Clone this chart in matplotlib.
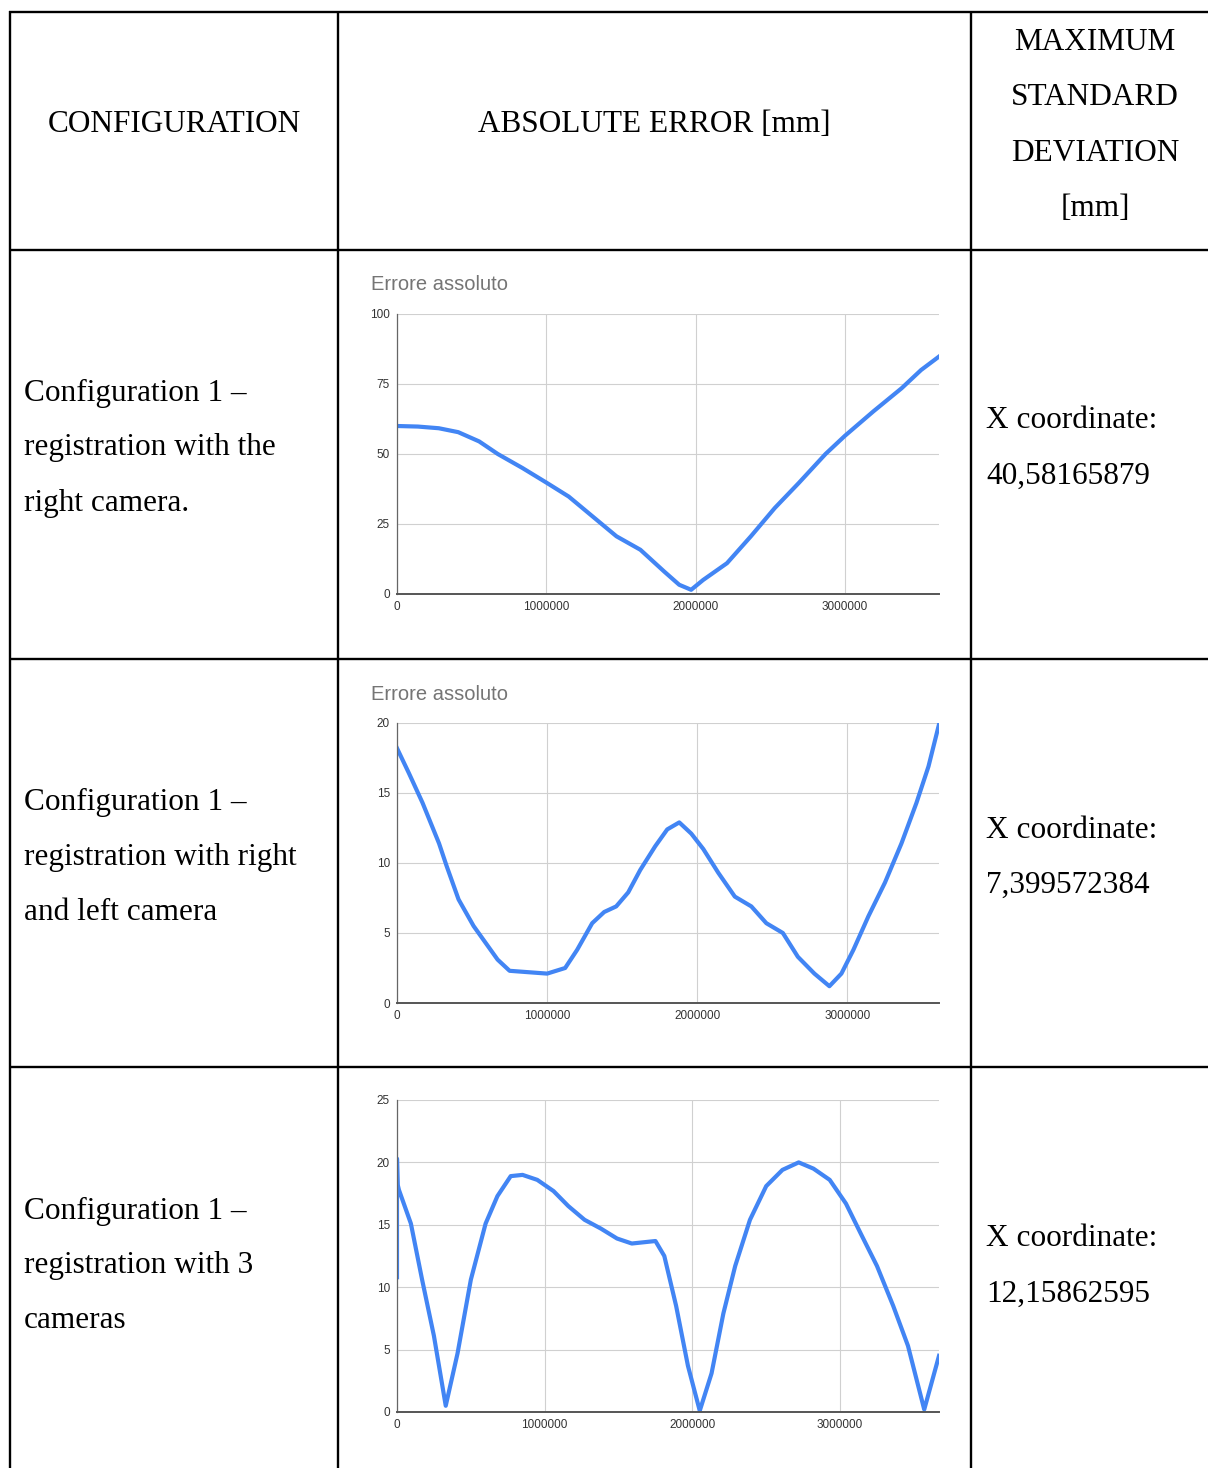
import matplotlib
matplotlib.use('Agg')
import matplotlib.pyplot as plt

# header and row texts
header_cols = ["CONFIGURATION", "ABSOLUTE ERROR [mm]",
               "MAXIMUM\nSTANDARD\nDEVIATION\n[mm]"]
config_labels = [
    ["Configuration 1 \u2013", "registration with the", "right camera."],
    ["Configuration 1 \u2013", "registration with right", "and left camera"],
    ["Configuration 1 \u2013", "registration with 3", "cameras"],
]
std_labels = [
    ["X coordinate:", "40,58165879"],
    ["X coordinate:", "7,399572384"],
    ["X coordinate:", "12,15862595"],
]
chart_titles = ["Errore assoluto", "Errore assoluto", None]

# absolute error series (sample index, error in mm)
x1 = [0, 0.14e6, 0.28e6, 0.41e6, 0.55e6, 0.675e6, 0.84e6, 1.0e6, 1.15e6,
      1.31e6, 1.47e6, 1.63e6, 1.79e6, 1.89e6, 1.97e6, 2.05e6, 2.21e6,
      2.37e6, 2.53e6, 2.69e6, 2.87e6, 3.0e6, 3.19e6, 3.38e6, 3.51e6,
      3.63e6]
y1 = [60.0, 59.8, 59.2, 57.8, 54.5, 50.0, 45.0, 39.8, 34.8,
      27.7, 20.6, 15.8, 8.0, 3.3, 1.5, 5.0, 11.0,
      20.6, 30.7, 39.6, 50.0, 56.5, 65.2, 73.5, 80.0,
      84.8]

x2 = [0, 0.08e6, 0.17e6, 0.28e6, 0.33e6, 0.41e6, 0.51e6, 0.59e6, 0.67e6,
      0.75e6, 1.0e6, 1.12e6, 1.2e6, 1.3e6, 1.38e6, 1.46e6, 1.54e6, 1.62e6,
      1.72e6, 1.8e6, 1.88e6, 1.96e6, 2.04e6, 2.14e6, 2.25e6, 2.36e6,
      2.46e6, 2.57e6, 2.67e6, 2.78e6, 2.88e6, 2.96e6, 3.04e6, 3.14e6,
      3.25e6, 3.36e6, 3.46e6, 3.54e6, 3.61e6]
y2 = [18.2, 16.4, 14.3, 11.4, 9.8, 7.4, 5.5, 4.3, 3.1,
      2.3, 2.1, 2.5, 3.8, 5.7, 6.5, 6.9, 7.9, 9.5,
      11.2, 12.4, 12.9, 12.1, 11.0, 9.3, 7.6, 6.9,
      5.7, 5.0, 3.3, 2.1, 1.2, 2.1, 3.8, 6.2,
      8.6, 11.4, 14.3, 16.9, 19.9]

x3 = [0, 0, 0.005e6, 0.013e6, 0.094e6, 0.17e6, 0.25e6, 0.33e6, 0.41e6,
      0.5e6, 0.6e6, 0.68e6, 0.77e6, 0.85e6, 0.95e6, 1.06e6, 1.16e6,
      1.27e6, 1.38e6, 1.49e6, 1.59e6, 1.75e6, 1.81e6, 1.89e6, 1.97e6,
      2.05e6, 2.13e6, 2.21e6, 2.29e6, 2.39e6, 2.5e6, 2.61e6, 2.72e6,
      2.82e6, 2.93e6, 3.04e6, 3.14e6, 3.25e6, 3.36e6, 3.46e6, 3.57e6,
      3.67e6]
y3 = [10.8, 20.3, 18.2, 17.8, 15.1, 10.6, 6.1, 0.5, 4.7,
      10.6, 15.1, 17.3, 18.9, 19.0, 18.6, 17.7, 16.5,
      15.4, 14.7, 13.9, 13.5, 13.7, 12.5, 8.5, 3.7,
      0.1, 3.1, 7.9, 11.7, 15.4, 18.1, 19.4, 20.0,
      19.5, 18.6, 16.7, 14.3, 11.7, 8.5, 5.3, 0.2,
      4.5]

series = [(x1, y1), (x2, y2), (x3, y3)]
y_tops = [100, 20, 25]
y_steps = [25, 5, 5]
x_ends = [3.63e6, 3.61e6, 3.67e6]

W, H = 1208, 1468
fig = plt.figure(figsize=(W / 100, H / 100), dpi=100)

# full-page axes in pixel units for the table grid and text
page = fig.add_axes([0, 0, 1, 1])
page.set_xlim(0, W)
page.set_ylim(H, 0)
page.axis('off')

serif = 'Liberation Serif'
lw = 1.7
col_x = [9.5, 338, 971]
row_y = [12, 250, 659, 1067]
for x in col_x:
    page.plot([x, x], [11, H], color='black', lw=lw, solid_capstyle='butt')
for y in row_y:
    page.plot([8.5, W], [y, y], color='black', lw=lw, solid_capstyle='butt')

fs = 22.5
page.text(174, 125, header_cols[0], fontsize=fs, family=serif,
          ha='center', va='center')
page.text(654, 125, header_cols[1], fontsize=fs, family=serif,
          ha='center', va='center')
for i, line in enumerate(header_cols[2].split('\n')):
    page.text(1095, 42 + i * 55.6, line, fontsize=fs, family=serif,
              ha='center', va='center')

row_text_top = [393, 802, 1211]
for r in range(3):
    for i, line in enumerate(config_labels[r]):
        page.text(24, row_text_top[r] + i * 55, line, fontsize=fs,
                  family=serif, ha='left', va='center')
    for i, line in enumerate(std_labels[r]):
        page.text(986, row_text_top[r] + 28 + i * 55, line, fontsize=fs,
                  family=serif, ha='left', va='center')

# the three error charts
plot_boxes = [(397, 314, 939, 594), (397, 723, 939, 1003),
              (397, 1100, 939, 1412)]
for k in range(3):
    left, top, right, bottom = plot_boxes[k]
    ax = fig.add_axes([left / W, 1 - bottom / H, (right - left) / W,
                       (bottom - top) / H])
    xs, ys = series[k]
    ax.plot(xs, ys, color='#4285F4', lw=3.0, solid_joinstyle='round')
    ax.set_xlim(0, x_ends[k])
    ax.set_ylim(0, y_tops[k])
    ax.set_xticks([0, 1000000, 2000000, 3000000])
    ax.set_xticklabels(['0', '1000000', '2000000', '3000000'])
    yt = list(range(0, y_tops[k] + 1, y_steps[k]))
    ax.set_yticks(yt)
    ax.set_yticklabels([str(v) for v in yt])
    ax.grid(True, color='#d0d0d0', lw=0.8)
    ax.set_axisbelow(True)
    for s in ['top', 'right']:
        ax.spines[s].set_visible(False)
    ax.spines['left'].set_color('#666666')
    ax.spines['left'].set_linewidth(0.9)
    ax.spines['bottom'].set_color('#555555')
    ax.spines['bottom'].set_linewidth(1.4)
    ax.tick_params(length=0, labelsize=8.5, labelcolor='#333333', pad=5,
                   labelfontfamily='Liberation Sans')
    ax.set_facecolor('none')
    if chart_titles[k]:
        page.text(371, top - 29, chart_titles[k], fontsize=14.5,
                  family='Liberation Sans', color='#757575',
                  ha='left', va='center')

fig.savefig('out.png', dpi=100)
